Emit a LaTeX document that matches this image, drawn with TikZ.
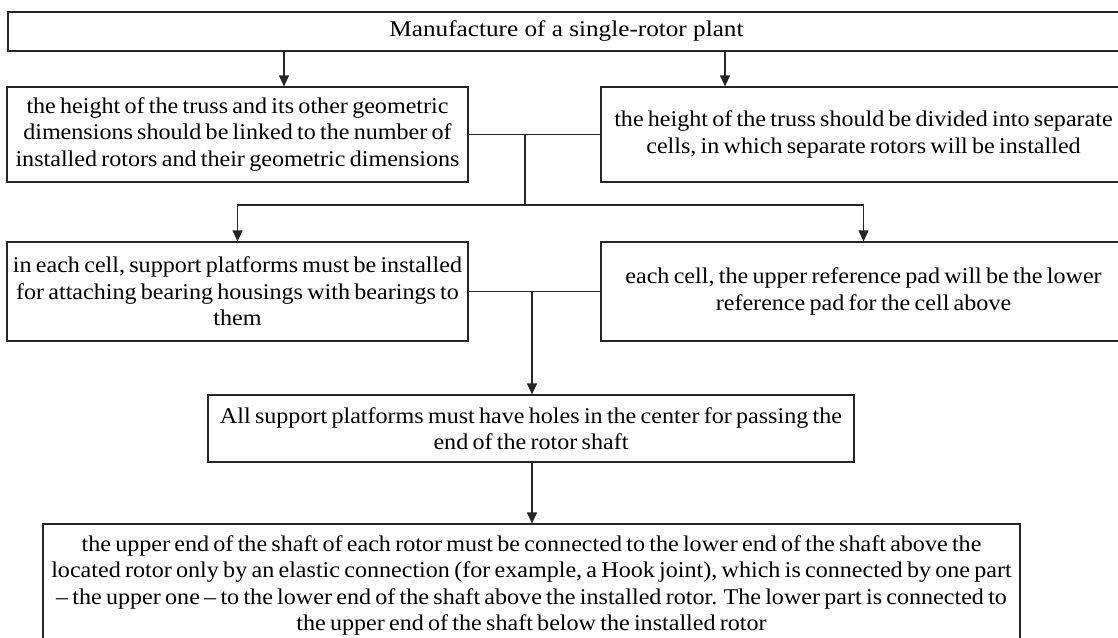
\documentclass[tikz,border=0pt]{standalone}
\usepackage{fontspec}
\setmainfont{Liberation Serif}[FakeStretch=1.07]
\newfontfamily\titlefont{Liberation Serif}[FakeStretch=1.12]
\usetikzlibrary{arrows.meta}
\newcommand\boxfont{\fontsize{22.5}{26.5}\selectfont\spaceskip 0.19em plus 0.04em minus 0.04em\relax}
\newcommand\headfont{\titlefont\fontsize{22.5}{26.5}\selectfont}
\tikzset{
  box/.style={draw=black!85, line width=1.2pt, inner sep=0pt, align=center, font=\boxfont},
  titlebox/.style={draw=black!85, line width=1.2pt, inner sep=0pt, align=center, font=\headfont},
  link/.style={draw=black!85, line width=1.2pt},
  arr/.style={link, -{Triangle[length=11pt,width=10pt]}}
}
\begin{document}
\begin{tikzpicture}[x=1pt,y=-1pt]
\useasboundingbox (0,0) rectangle (1118,637);
\clip (0,0) rectangle (1118,637);
\fill[white] (0,0) rectangle (1118,637);
\node[titlebox, minimum width=1117pt, minimum height=39pt] (T) at (566.5,31.5) {Manufacture of a single-rotor plant};
\node[box, minimum width=461pt, minimum height=95pt] (L1) at (237.5,134.5) {the height of the truss and its other geometric\\dimensions should be linked to the number of\\installed rotors and their geometric dimensions};
\node[box, minimum width=525pt, minimum height=95pt] (R1) at (863.5,134.5) {the height of the truss should be divided into separate\\cells, in which separate rotors will be installed};
\node[box, minimum width=461pt, minimum height=99pt] (L2) at (237.5,291.5) {in each cell, support platforms must be installed\\for attaching bearing housings with bearings to\\them};
\node[box, minimum width=525pt, minimum height=99pt] (R2) at (863.5,291.5) {each cell, the upper reference pad will be the lower\\reference pad for the cell above};
\node[box, minimum width=646pt, minimum height=67pt] (M) at (531,428.5) {All support platforms must have holes in the center for passing the\\end of the rotor shaft};
\node[box, minimum width=977pt, minimum height=123pt] (B) at (531.5,585.5) {the upper end of the shaft of each rotor must be connected to the lower end of the shaft above the\\located rotor only by an elastic connection (for example, a Hook joint), which is connected by one part\\-- the upper one -- to the lower end of the shaft above the installed rotor. The lower part is connected to\\the upper end of the shaft below the installed rotor};
\coordinate (a1) at (284,0);
\coordinate (a2) at (725,0);
\coordinate (j1) at (525,134.5);
\coordinate (h) at (525,205);
\coordinate (j2) at (532,291.5);
\draw[arr] (T.south -| a1) -- (L1.north -| a1);
\draw[arr] (T.south -| a2) -- (R1.north -| a2);
\draw[link] (L1.east) -- (R1.west);
\draw[link] (j1) -- (h);
\draw[arr] (h) -| (L2.north);
\draw[arr] (h) -| (R2.north);
\draw[link] (L2.east) -- (R2.west);
\draw[arr] (j2) -- (j2 |- M.north);
\draw[arr] (M.south -| j2) -- (B.north -| j2);
\end{tikzpicture}
\end{document}
